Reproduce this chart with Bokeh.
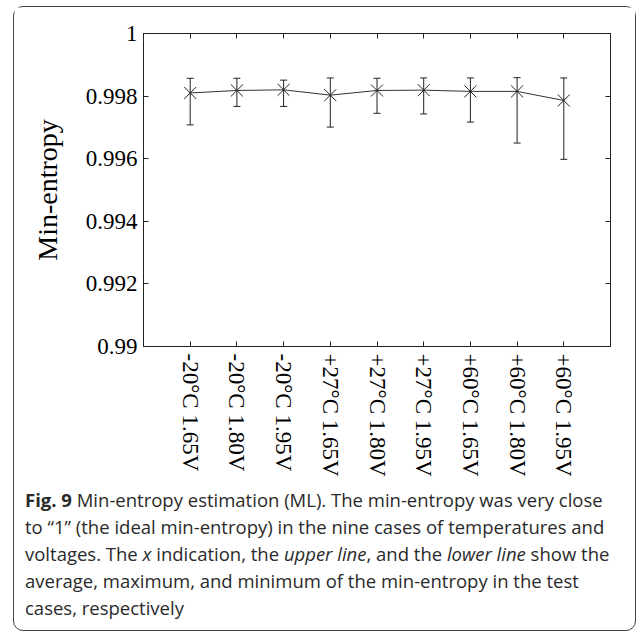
import math
from bokeh.plotting import figure
from bokeh.layouts import column
from bokeh.models import (ColumnDataSource, Whisker, TeeHead, FixedTicker, LinearAxis,
                          Range1d, Div)
from bokeh.embed import file_html
from bokeh.resources import INLINE

# ---- data ----
categories = ["-20°C 1.65V", "-20°C 1.80V", "-20°C 1.95V",
              "+27°C 1.65V", "+27°C 1.80V", "+27°C 1.95V",
              "+60°C 1.65V", "+60°C 1.80V", "+60°C 1.95V"]
positions = [1, 2, 3, 4, 5, 6, 7, 8, 9]
mean_vals = [0.99810, 0.99818, 0.99820, 0.99803, 0.99818, 0.99819, 0.99815, 0.99815, 0.99786]
max_vals = [0.99857, 0.99857, 0.99851, 0.99858, 0.99857, 0.99858, 0.99858, 0.99859, 0.99858]
min_vals = [0.99708, 0.99767, 0.99767, 0.99701, 0.99745, 0.99743, 0.99717, 0.99650, 0.99598]
y_ticks = [0.99, 0.992, 0.994, 0.996, 0.998, 1.0]
y_tick_labels = ["0.99", "0.992", "0.994", "0.996", "0.998", "1"]
y_label = "Min-entropy"

caption_lines = [
    [("Fig. 9", "b"), (" Min-entropy estimation (ML). The min-entropy was very close", "")],
    [("to \u201c1\u201d (the ideal min-entropy) in the nine cases of temperatures and", "")],
    [("voltages. The ", ""), ("x", "i"), (" indication, the ", ""),
     ("upper line", "i"), (", and the ", ""), ("lower line", "i"), (" show the", "")],
    [("average, maximum, and minimum of the min-entropy in the test", "")],
    [("cases, respectively", "")],
]

INK = "#222222"
SERIF = "Liberation Serif"

FIG_W, FIG_H = 621, 473

p = figure(width=FIG_W, height=FIG_H, output_backend="svg", toolbar_location=None,
           x_range=Range1d(0, 10), y_range=Range1d(0.99, 1.0),
           min_border_left=129, min_border_right=25, min_border_top=26,
           min_border_bottom=134, background_fill_color="white",
           border_fill_color="white", margin=0)
p.grid.visible = False
p.outline_line_color = INK
p.outline_line_width = 1

# bottom axis
xa = p.xaxis[0]
xa.ticker = FixedTicker(ticks=positions)
xa.major_label_overrides = {pos: cat for pos, cat in zip(positions, categories)}
xa.major_label_orientation = -math.pi / 2
xa.major_label_text_font = SERIF
xa.major_label_text_font_size = "23px"
xa.major_label_text_color = "black"
xa.major_label_standoff = 7
xa.major_tick_in = 5
xa.major_tick_out = 0
xa.minor_tick_line_color = None
xa.axis_line_color = INK
xa.major_tick_line_color = INK

# left axis
ya = p.yaxis[0]
ya.ticker = FixedTicker(ticks=y_ticks)
ya.major_label_overrides = {t: l for t, l in zip(y_ticks, y_tick_labels)}
ya.major_label_text_font = SERIF
ya.major_label_text_font_size = "23px"
ya.major_label_text_color = "black"
ya.major_label_standoff = 6
ya.major_tick_in = 5
ya.major_tick_out = 0
ya.minor_tick_line_color = None
ya.axis_line_color = INK
ya.major_tick_line_color = INK
ya.axis_label = y_label
ya.axis_label_text_font = SERIF
ya.axis_label_text_font_size = "28px"
ya.axis_label_text_font_style = "normal"
ya.axis_label_text_color = "black"
ya.axis_label_standoff = 20

# mirrored ticks on top and right (no labels drawn)
top_ax = LinearAxis(ticker=FixedTicker(ticks=positions), major_label_text_font_size="1px",
                    major_label_text_color=None,
                    major_tick_in=5, major_tick_out=0, minor_tick_line_color=None,
                    axis_line_color=INK, major_tick_line_color=INK, major_label_standoff=0)
right_ax = LinearAxis(ticker=FixedTicker(ticks=y_ticks), major_label_text_font_size="1px",
                      major_label_text_color=None,
                      major_tick_in=5, major_tick_out=0, minor_tick_line_color=None,
                      axis_line_color=INK, major_tick_line_color=INK, major_label_standoff=0)
p.add_layout(top_ax, "above")
p.add_layout(right_ax, "right")

src = ColumnDataSource(dict(x=positions, mean=mean_vals, upper=max_vals, lower=min_vals))

p.add_layout(Whisker(source=src, base="x", upper="upper", lower="lower",
                     line_color=INK, line_width=1,
                     upper_head=TeeHead(size=7, line_color=INK, line_width=1),
                     lower_head=TeeHead(size=7, line_color=INK, line_width=1)))
p.line("x", "mean", source=src, line_color="#333333", line_width=1)
p.scatter("x", "mean", source=src, marker="x", size=17, line_color=INK, line_width=1)

# ---- caption (real HTML text) ----
html_lines = []
for line in caption_lines:
    parts = []
    for seg, tag in line:
        parts.append(f"<{tag}>{seg}</{tag}>" if tag else seg)
    html_lines.append("".join(parts))
caption_html = (
    "<div style=\"font-family:'Open Sans',sans-serif;font-size:18.5px;line-height:27px;"
    "color:#2a2a2a;padding:6px 0 0 11px;white-space:nowrap;margin:0;\">"
    + "<br>".join(html_lines) + "</div>"
)
cap = Div(text=caption_html, width=FIG_W, height=150, margin=0)

layout = column(p, cap, margin=(6, 0, 0, 13), spacing=0,
                styles={"border": "1px solid #444444", "border-radius": "10px",
                        "background-color": "white"})

open("out.html", "w").write(file_html(layout, INLINE))
